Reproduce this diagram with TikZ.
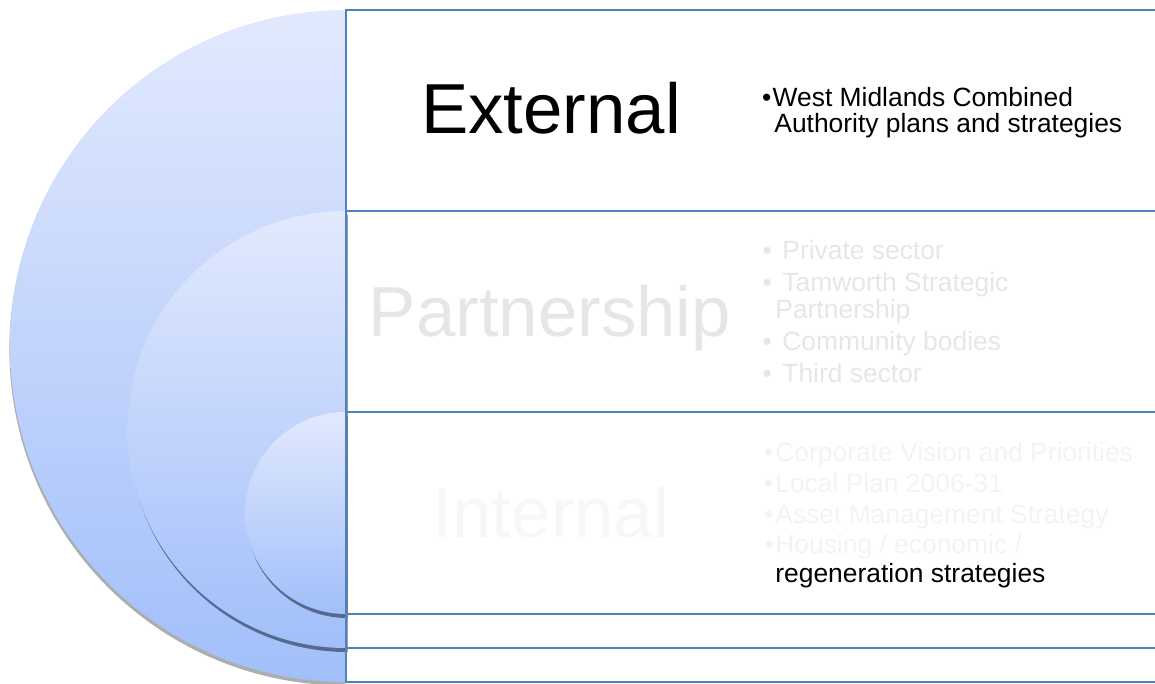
\documentclass[tikz,border=0pt]{standalone}
\usepackage{fontspec}
\setmainfont{Liberation Sans}
\definecolor{frame}{HTML}{4F81BD}
\definecolor{ringtop}{HTML}{E2E9FD}
\definecolor{ringbottom}{HTML}{A1BFFA}
\definecolor{ringshade}{HTML}{56698E}
\definecolor{faded}{HTML}{E6E6E6}
\definecolor{pale}{HTML}{F3F3F3}
\newcommand{\bulletgap}[1]{\llap{•\hspace{#1}}}
\tikzset{
  ring/.style={top color=ringtop,bottom color=ringbottom,draw=none},
  band/.style={draw=frame,line width=1pt},
  level/.style={font=\fontsize{35.4}{42}\selectfont,anchor=base,inner sep=0pt},
  item/.style={font=\fontsize{13.2}{16}\selectfont,anchor=base west,inner sep=0pt}
}

\begin{document}
\begin{tikzpicture}[x=0.5pt,y=-0.5pt]
\useasboundingbox (0,0) rectangle (1155,684);

% half discs, each with its own shadow
\begin{scope}
  \clip (0,0) rectangle (347.5,684);
  \foreach \name/\top/\r/\shade/\dx/\dy in {
    outer/10/336/black!32/-0.6/3.5,
    middle/211/218.5/ringshade/1.5/4,
    inner/412/101/ringshade/1.5/4} {
    \fill[\shade] (346+\dx,\top+\dy)
      arc[start angle=270,end angle=90,radius=\r] -- cycle;
    \path[ring] (346,\top)
      arc[start angle=270,end angle=90,radius=\r] -- cycle;
  }
\end{scope}

% bands on the right
\draw[band] (346,10) rectangle (1157,682);
\foreach \y in {211,412,614,648}
  \draw[band] (346,\y) -- (1157,\y);

\node[level,text=black] (external) at (551,134) {External};
\node[level,text=faded] (partnership) at (550,336) {Partnership};
\node[level,text=pale!70!white] (internal) at (551,537) {Internal};

\foreach \name/\x/\y/\txt in {
  ext1/772.3/106.7/{\bulletgap{0.7pt}West Midlands Combined},
  ext2/774/132.7/{Authority plans and strategies}}
  \node[item,text=black] (\name) at (\x,\y) {\txt};

\foreach \name/\x/\y/\txt in {
  part1/782/259/{\bulletgap{5.3pt}Private sector},
  part2/782/291/{\bulletgap{5.3pt}Tamworth Strategic},
  part3/775/318/{Partnership},
  part4/782/350/{\bulletgap{5.3pt}Community bodies},
  part5/782/382/{\bulletgap{5.3pt}Third sector}}
  \node[item,text=faded] (\name) at (\x,\y) {\txt};

\foreach \name/\y/\txt in {
  int1/461/{Corporate Vision and Priorities},
  int2/492/{Local Plan 2006-31},
  int3/523/{Asset Management Strategy},
  int4/553/{Housing / economic /}}
  \node[item,text=pale] (\name) at (775,\y) {\bulletgap{1pt}\txt};
\node[item,text=black] (int5) at (775,582) {regeneration strategies};

\end{tikzpicture}
\end{document}
